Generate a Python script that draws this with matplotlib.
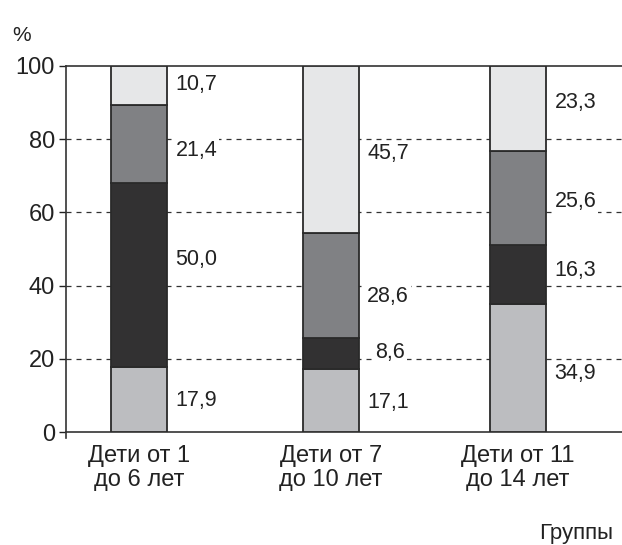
import matplotlib
matplotlib.use("Agg")
import matplotlib.pyplot as plt
import numpy as np

plt.rcParams['font.family'] = ['Liberation Sans', 'DejaVu Sans']

categories = ["Дети от 1\nдо 6 лет", "Дети от 7\nдо 10 лет", "Дети от 11\nдо 14 лет"]
# segments bottom to top
seg1 = [17.9, 17.1, 34.9]   # light gray
seg2 = [50.0, 8.6, 16.3]    # black
seg3 = [21.4, 28.6, 25.6]   # mid gray
seg4 = [10.7, 45.7, 23.3]   # very light
series = [seg1, seg2, seg3, seg4]
colors = ["#bcbdc0", "#323132", "#808184", "#e6e7e8"]

# layout: bar positions and label vertical positions (data units)
x = np.array([0.0, 1.013, 2.0])
label_y = [
    [8.5, 47.0, 77.0, 95.0],
    [8.0, 21.6, 37.0, 76.0],
    [16.0, 44.0, 63.0, 90.0],
]
label_dx = [
    [0.0, 0.0, 0.0, 0.0],
    [0.0, 0.04, 0.0, 0.0],
    [0.0, 0.0, 0.0, 0.0],
]

fig = plt.figure(figsize=(6.22, 5.45), dpi=100)
ax = fig.add_axes([0.106, 0.2073, 0.894, 0.6716])

width = 0.295
bottom = np.zeros(len(categories))
for vals, c in zip(series, colors):
    ax.bar(x, vals, width, bottom=bottom, color=c, edgecolor="#2a2a2a",
           linewidth=1.3, zorder=3)
    bottom += np.array(vals)

for i in range(len(categories)):
    for j, vals in enumerate(series):
        ax.text(x[i] + width / 2 + 0.045 + label_dx[i][j], label_y[i][j],
                f"{vals[i]:.1f}".replace(".", ","),
                ha="left", va="center", fontsize=15.5, color="#222222",
                zorder=4,
                bbox=dict(facecolor="white", edgecolor="none", pad=1.5))

ax.set_xlim(-0.385, 2.549)
ax.set_ylim(0, 100)
ax.set_yticks([0, 20, 40, 60, 80, 100])
ax.set_xticks(x)
ax.set_xticklabels(categories, fontsize=17, color="#222222", linespacing=1.12)
ax.tick_params(axis="x", length=0, pad=9)
ax.tick_params(axis="y", labelsize=17, length=5, width=1, colors="#222222", pad=3)

for yv in [20, 40, 60, 80]:
    ax.axhline(yv, color="#333333", linewidth=0.9, linestyle=(0, (4, 4)), zorder=1)

ax.spines["right"].set_visible(False)
for s in ["top", "bottom", "left"]:
    ax.spines[s].set_color("#333333")
    ax.spines[s].set_linewidth(1.2)
# small extension of the left axis below zero
ax.plot([0, 0], [0, -0.017], transform=ax.transAxes, color="#333333",
        linewidth=1.2, clip_on=False)

fig.text(0.019, 0.935, "%", fontsize=15, color="#222222", ha="left", va="center")
fig.text(0.985, 0.022, "Группы", fontsize=16, color="#222222", ha="right", va="center")

fig.savefig("out.png", dpi=100)
